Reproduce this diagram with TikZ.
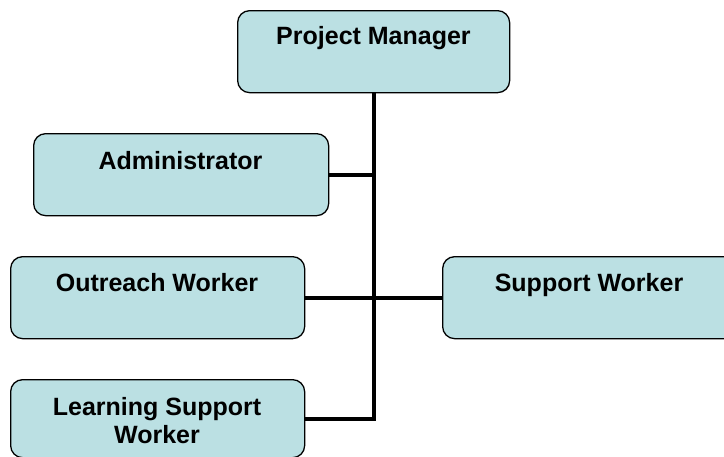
\documentclass[tikz,border=0pt]{standalone}
\usepackage{fontspec}
\setmainfont{Liberation Sans}
\definecolor{boxfill}{RGB}{187,224,227}
\begin{document}
\begin{tikzpicture}[x=1pt,y=-1pt,
  orgbox/.style={draw=black,line width=1.3pt,fill=boxfill,rounded corners=12pt,
    minimum height=82pt,inner sep=0pt,anchor=north west},
  lbl/.style={font=\fontsize{25}{28}\selectfont\bfseries,align=center,inner sep=0pt},
  conn/.style={line width=4pt,black,line join=miter}]
\useasboundingbox (0,0) rectangle (724,456);
% boxes
\node[orgbox,minimum width=272pt] (pm) at (237,10) {};
\node[orgbox,minimum width=295pt] (adm) at (33,133) {};
\node[orgbox,minimum width=294pt] (out) at (10,256) {};
\node[orgbox,minimum width=294pt] (sup) at (442,256) {};
\node[orgbox,minimum width=294pt,minimum height=78pt] (lsw) at (10,379) {};
% connectors
\draw[conn] (pm.south) -- (pm.south |- lsw.east) -- (lsw.east);
\draw[conn] (adm.east) -- (pm.south |- adm.east);
\draw[conn] (out.east) -- (sup.west);
% labels
\node[lbl] (pmt) at (373.5,38) {Project Manager};
\node[lbl] (admt) at (180.5,161) {Administrator};
\node[lbl] (outt) at (157,283) {Outreach Worker};
\node[lbl] (supt) at (589,285) {Support Worker};
\node[lbl] (lswt) at (157,421) {Learning Support\\Worker};
\end{tikzpicture}
\end{document}
